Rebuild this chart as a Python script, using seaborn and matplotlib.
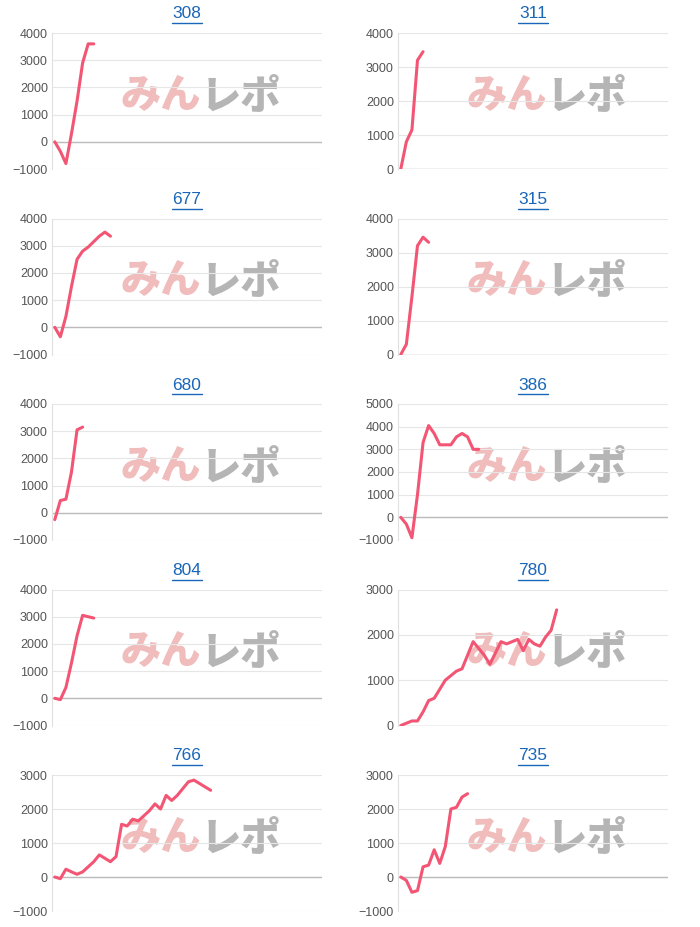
import matplotlib
matplotlib.use("Agg")
import matplotlib.pyplot as plt
import seaborn as sns
import numpy as np

# machine numbers and their session curves
titles = ["308", "311", "677", "315", "680", "386", "804", "780", "766", "735"]

v308 = [0, -350, -800, 300, 1500, 2900, 3600, 3600]
v311 = [0, 800, 1150, 3200, 3450]
v677 = [0, -350, 400, 1500, 2500, 2800, 2950, 3150, 3350, 3500, 3350]
v315 = [0, 300, 1700, 3200, 3450, 3300]
v680 = [-250, 450, 500, 1500, 3050, 3150]
v386 = [0, -300, -900, 1000, 3300, 4050, 3700, 3200, 3200, 3200, 3550, 3700,
        3550, 3000, 3000]
v804 = [0, -50, 400, 1300, 2300, 3050, 3000, 2950]
v780 = [0, 50, 100, 100, 300, 550, 600, 800, 1000, 1100, 1200, 1250, 1550,
        1850, 1700, 1550, 1350, 1600, 1850, 1800, 1850, 1900, 1650, 1900,
        1800, 1750, 1950, 2100, 2550]
v766 = [0, -50, 230, 150, 80, 150, 300, 450, 650, 550, 450, 600, 1550, 1500,
        1700, 1650, 1800, 1950, 2150, 2000, 2400, 2250, 2400, 2600, 2800,
        2850, 2750, 2650, 2550]
v735 = [0, -100, -450, -400, 300, 350, 800, 400, 900, 2000, 2050, 2350, 2450]

series = [v308, v311, v677, v315, v680, v386, v804, v780, v766, v735]
ylims = [(-1000, 4000), (0, 4000), (-1000, 4000), (0, 4000), (-1000, 4000),
         (-1000, 5000), (-1000, 4000), (0, 3000), (-1000, 3000), (-1000, 3000)]

sns.set_style("white")
plt.rcParams['font.family'] = ['Liberation Sans', 'Noto Sans CJK JP', 'DejaVu Sans']

W, H = 700, 927
fig = plt.figure(figsize=(7, 9.27), dpi=100)

for i, (t, vals, yl) in enumerate(zip(titles, series, ylims)):
    row, col = divmod(i, 2)
    left = 52 if col == 0 else 398
    top = 33 + 185.5 * row
    ax = fig.add_axes([left / W, 1 - (top + 136) / H, 270 / W, 136 / H])
    ax.set_ylim(*yl)
    ax.set_yticks(np.arange(yl[0], yl[1] + 1, 1000))
    ax.set_xlim(-0.5, 48)
    ax.set_xticks([])
    ax.grid(axis="y", color="#e6e6e6", linewidth=0.8)
    ax.axhline(0, color="#bbbbbb", linewidth=1, zorder=1)
    for s in ["top", "right", "bottom"]:
        ax.spines[s].set_visible(False)
    ax.spines["left"].set_color("#e0e0e0")
    ax.tick_params(axis="y", labelsize=9, colors="#555555", length=0, pad=3)

    # watermark
    ax.text(0.55, 0.54, "みん", transform=ax.transAxes, ha="right", va="center",
            fontsize=29, fontweight="black", style="italic", color="#f0bcbc",
            family=["Noto Sans CJK JP"], zorder=0)
    ax.text(0.55, 0.54, "レポ", transform=ax.transAxes, ha="left", va="center",
            fontsize=29, fontweight="black", style="italic", color="#b5b5b5",
            family=["Noto Sans CJK JP"], zorder=0)

    sns.lineplot(x=np.arange(len(vals)), y=vals, ax=ax, color="#f25674",
                 linewidth=2.2, zorder=3)
    ax.set_ylabel("")

    tx = (left + 135) / W
    fig.text(tx, 1 - (14 + 185.5 * row) / H, t, ha="center", va="center",
             fontsize=12.5, color="#1a66b8")
    fig.add_artist(plt.Line2D([tx - 15 / W, tx + 15 / W],
                              [1 - (23 + 185.5 * row) / H] * 2,
                              color="#1a66b8", linewidth=1))

fig.savefig("out.png", dpi=100)
